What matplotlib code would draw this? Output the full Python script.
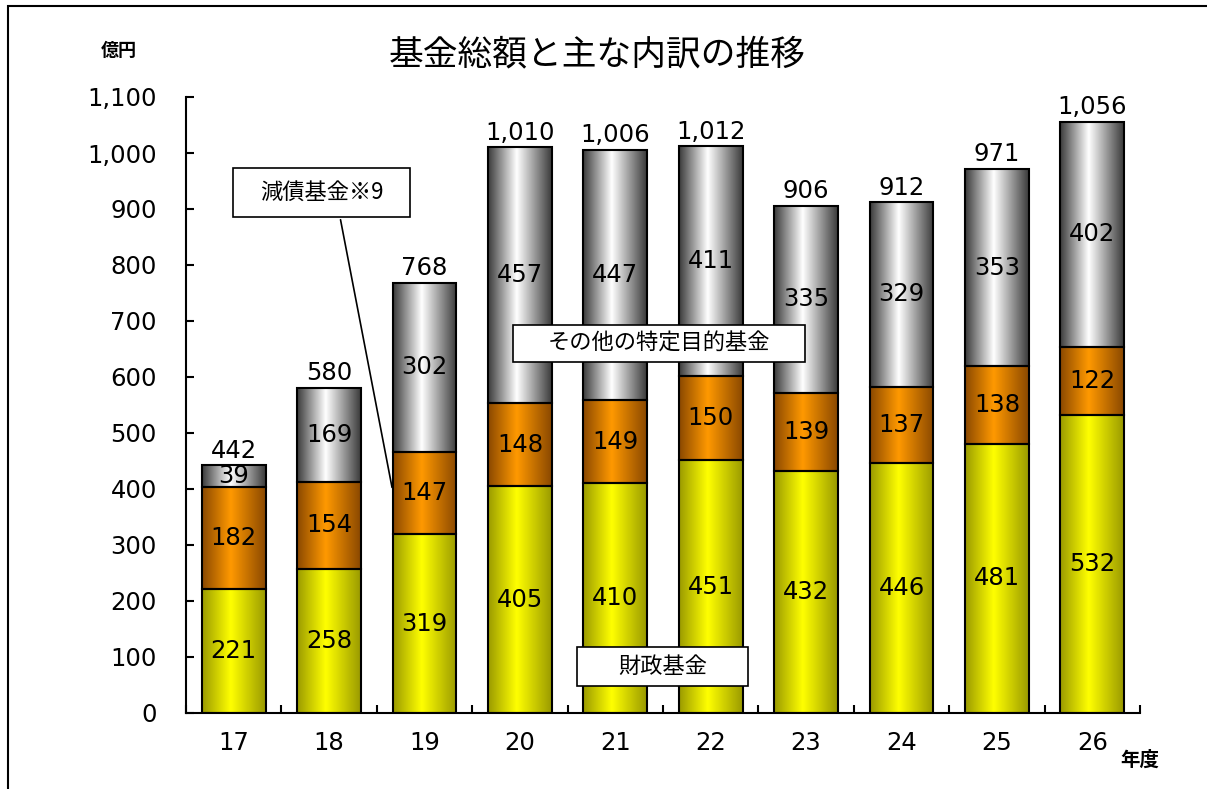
import numpy as np
import matplotlib.pyplot as plt
from matplotlib.colors import LinearSegmentedColormap
from matplotlib.patches import Rectangle

plt.rcParams['font.family'] = ['Noto Sans CJK JP', 'DejaVu Sans']
NUM = ['DejaVu Sans']
NUM_SIZE = 17.5

# --- data ---
years = ['17', '18', '19', '20', '21', '22', '23', '24', '25', '26']
zaisei = [221, 258, 319, 405, 410, 451, 432, 446, 481, 532]      # 財政基金
gensai = [182, 154, 147, 148, 149, 150, 139, 137, 138, 122]      # 減債基金
sonota = [39, 169, 302, 457, 447, 411, 335, 329, 353, 402]       # その他の特定目的基金
totals = ['442', '580', '768', '1,010', '1,006', '1,012', '906', '912', '971', '1,056']
total_vals = [442, 580, 768, 1010, 1006, 1012, 906, 912, 971, 1056]

W, H = 1207, 789
fig = plt.figure(figsize=(W / 100, H / 100), dpi=100)
ax = fig.add_axes([186 / W, 1 - 713 / H, (1140 - 186) / W, (713 - 97) / H])

def shade(dark, light):
    return LinearSegmentedColormap.from_list('s', [(0, dark), (0.45, light), (1, dark)])

cmaps = [shade('#9a9a00', '#ffff00'),
         shade('#8a4800', '#ff9900'),
         shade('#3a3a3a', '#ffffff')]

grad = np.linspace(0, 1, 256).reshape(1, -1)
x = np.arange(len(years))
width = 0.67

bottom = np.zeros(len(years))
for vals, cm in zip([zaisei, gensai, sonota], cmaps):
    vals = np.array(vals)
    for i in range(len(years)):
        ax.imshow(grad, cmap=cm, aspect='auto', zorder=2,
                  extent=[x[i] - width / 2, x[i] + width / 2, bottom[i], bottom[i] + vals[i]])
        ax.text(x[i], bottom[i] + vals[i] / 2, str(vals[i]), ha='center', va='center',
                fontsize=NUM_SIZE, family=NUM, zorder=4)
    ax.bar(x, vals, width, bottom=bottom, facecolor='none', edgecolor='black',
           linewidth=1.5, zorder=3)
    bottom += vals

for i in range(len(years)):
    ax.annotate(totals[i], (x[i], total_vals[i]), xytext=(0, 2), textcoords='offset points',
                ha='center', va='bottom', fontsize=NUM_SIZE, family=NUM, zorder=4)

ax.set_xlim(-0.5, len(years) - 0.5)
ax.set_ylim(0, 1100)
ax.set_yticks(range(0, 1101, 100))
ax.set_yticklabels([f'{v:,}' for v in range(0, 1101, 100)], family=NUM)
ax.set_xticks(x)
ax.set_xticklabels(years, family=NUM)
ax.set_xticks(np.arange(-0.5, len(years)), minor=True)
ax.tick_params(axis='x', which='major', length=0, pad=13, labelsize=NUM_SIZE)
ax.tick_params(axis='x', which='minor', direction='in', length=6, width=1.5)
ax.tick_params(axis='y', direction='in', length=6, width=1.5, pad=21, labelsize=NUM_SIZE)
for s in ['top', 'right']:
    ax.spines[s].set_visible(False)
for s in ['left', 'bottom']:
    ax.spines[s].set_linewidth(1.5)

# title and unit labels
fig.text(597 / W, 1 - 55 / H, '基金総額と主な内訳の推移', ha='center', va='center', fontsize=25)
fig.text(119 / W, 1 - 50 / H, '億円', ha='center', va='center', fontsize=13, weight='bold')
fig.text(1140 / W, 1 - 760 / H, '年度', ha='center', va='center', fontsize=14, weight='bold')

# callout boxes
def callout(x0, y0, x1, y1, label, size):
    fig.add_artist(Rectangle((x0 / W, 1 - y1 / H), (x1 - x0) / W, (y1 - y0) / H,
                             transform=fig.transFigure, facecolor='white',
                             edgecolor='black', linewidth=1.2, zorder=5))
    fig.text((x0 + x1) / 2 / W, 1 - (y0 + y1) / 2 / H, label, ha='center', va='center',
             fontsize=size, zorder=6)

callout(233, 168, 410, 217, '減債基金※9', 16)
callout(513, 325, 805, 362, 'その他の特定目的基金', 16)
callout(577, 647, 748, 686, '財政基金', 16)

# leader line from 減債基金 box to the FY19 bar
ax.annotate('', xy=(2 - width / 2, 398), xycoords='data',
            xytext=(340 / W, 1 - 217 / H), textcoords='figure fraction',
            arrowprops=dict(arrowstyle='-', color='black', lw=1.2), zorder=5)

# outer frame
fig.add_artist(Rectangle((8 / W, -0.1), 1.2, 1 - 6 / H + 0.1, transform=fig.transFigure,
                         facecolor='none', edgecolor='black', linewidth=1.5))

fig.savefig('out.png', dpi=100)
